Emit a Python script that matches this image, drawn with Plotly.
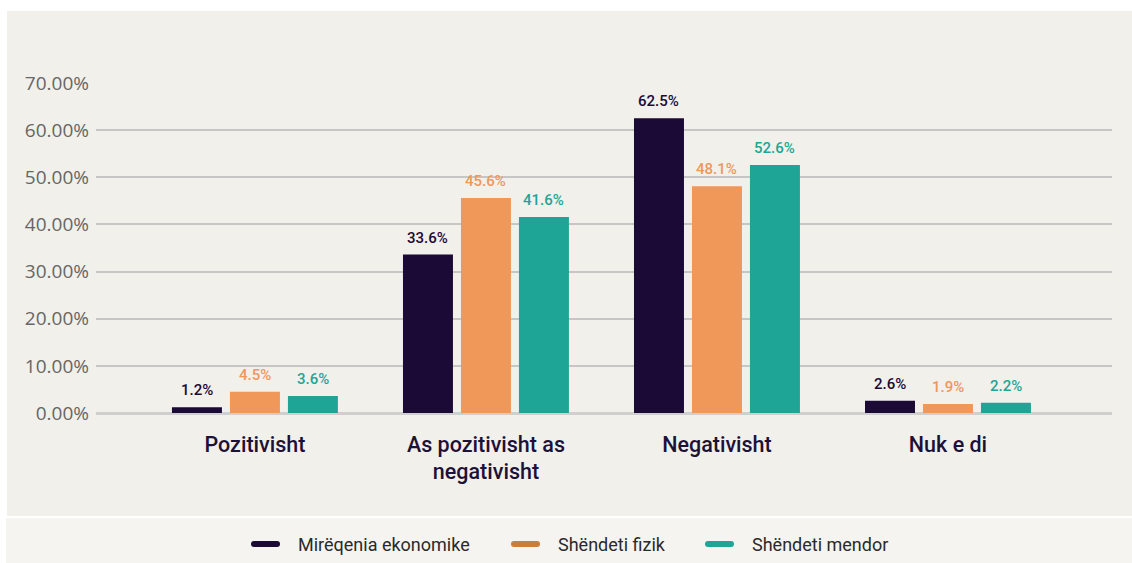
import plotly.graph_objects as go

categories = ["Pozitivisht", "As pozitivisht as<br>negativisht", "Negativisht", "Nuk e di"]
series_names = ["Mirëqenia ekonomike", "Shëndeti fizik", "Shëndeti mendor"]
mireqenia = [1.2, 33.6, 62.5, 2.6]
fizik = [4.5, 45.6, 48.1, 1.9]
mendor = [3.6, 41.6, 52.6, 2.2]
y_ticks = [0, 10, 20, 30, 40, 50, 60, 70]
y_tick_labels = ["0.00%", "10.00%", "20.00%", "30.00%", "40.00%", "50.00%", "60.00%", "70.00%"]

bar_colors = ["#1b0a35", "#f0975a", "#1fa596"]
legend_colors = ["#1b0a35", "#c97f3c", "#1fa596"]
values = [mireqenia, fizik, mendor]

x_idx = list(range(len(categories)))

W, H = 1132, 563
L, R, T, B = 96, W - 1112, 83, H - 413
pw, ph = W - L - R, H - T - B

X_RANGE = [-0.688, 3.71]
BARGAP, BARGROUPGAP = 0.247, 0.138
unit_px = pw / (X_RANGE[1] - X_RANGE[0])
slot_px = unit_px * (1 - BARGAP) / len(series_names)

def px_x(p):
    return (p - L) / pw

def px_y(p):
    return (H - B - p) / ph

fig = go.Figure()
for k, (name, vals, c) in enumerate(zip(series_names, values, bar_colors)):
    fig.add_trace(go.Bar(
        x=x_idx, y=vals, name=name, marker=dict(color=c, line=dict(width=0)),
        showlegend=False, hoverinfo="skip",
    ))
    for i, v in zip(x_idx, vals):
        fig.add_annotation(
            x=i, y=v, xref="x", yref="y", text=f"{v:.1f}%", showarrow=False,
            xanchor="center", yanchor="bottom",
            xshift=(k - (len(series_names) - 1) / 2) * slot_px, yshift=6,
            font=dict(family="Roboto", size=15, color=c, weight=500),
        )

# background panels
fig.add_shape(type="rect", xref="paper", yref="paper",
              x0=px_x(7), x1=px_x(1132), y0=px_y(516), y1=px_y(11),
              fillcolor="#f1f0eb", line=dict(width=0), layer="below")
fig.add_shape(type="rect", xref="paper", yref="paper",
              x0=px_x(6), x1=px_x(1132), y0=px_y(563), y1=px_y(518),
              fillcolor="#f5f4f0", line=dict(width=0), layer="below")

# legend (drawn by hand so it does not push the margins)
legend_y = 544
legend_sym_starts = [251, 511, 705]
sym_len, sym_gap = 29, 16
for name, c, x0 in zip(series_names, legend_colors, legend_sym_starts):
    fig.add_shape(type="line", xref="paper", yref="paper",
                  x0=px_x(x0 + 3), x1=px_x(x0 + sym_len - 3),
                  y0=px_y(legend_y), y1=px_y(legend_y),
                  line=dict(color=c, width=6))
    fig.add_shape(type="circle", xref="paper", yref="paper",
                  x0=px_x(x0), x1=px_x(x0 + 6),
                  y0=px_y(legend_y + 3), y1=px_y(legend_y - 3),
                  fillcolor=c, line=dict(width=0))
    fig.add_shape(type="circle", xref="paper", yref="paper",
                  x0=px_x(x0 + sym_len - 6), x1=px_x(x0 + sym_len),
                  y0=px_y(legend_y + 3), y1=px_y(legend_y - 3),
                  fillcolor=c, line=dict(width=0))
    fig.add_annotation(
        x=px_x(x0 + sym_len + sym_gap), y=px_y(legend_y), xref="paper", yref="paper",
        text=name, showarrow=False, xanchor="left", yanchor="middle",
        font=dict(family="Roboto", size=18, color="#2a2a2a"),
    )

fig.update_layout(
    width=W, height=H,
    margin=dict(l=L, r=R, t=T, b=B, pad=0),
    paper_bgcolor="white",
    plot_bgcolor="rgba(0,0,0,0)",
    barmode="group",
    bargap=BARGAP,
    bargroupgap=BARGROUPGAP,
    showlegend=False,
    font=dict(family="Roboto"),
    xaxis=dict(
        range=X_RANGE, tickvals=x_idx, ticktext=categories,
        showgrid=False, zeroline=False, showline=False, ticks="",
        tickfont=dict(family="Roboto", size=21.5, color="#1d1236", weight=500),
        ticklabelstandoff=16,
    ),
    yaxis=dict(
        range=[0, 70], tickvals=y_ticks, ticktext=y_tick_labels,
        showgrid=True, gridcolor="#c6c6c6", gridwidth=1.5,
        zeroline=True, zerolinecolor="#cfcfcf", zerolinewidth=2.5,
        showline=False, ticks="",
        tickfont=dict(family="Open Sans", size=19, color="#666666"),
        ticklabelstandoff=6,
    ),
)

fig.write_html(
    "out.html",
    config={"displayModeBar": False},
    post_script="document.body.style.margin='0';document.body.style.overflow='hidden';",
)
